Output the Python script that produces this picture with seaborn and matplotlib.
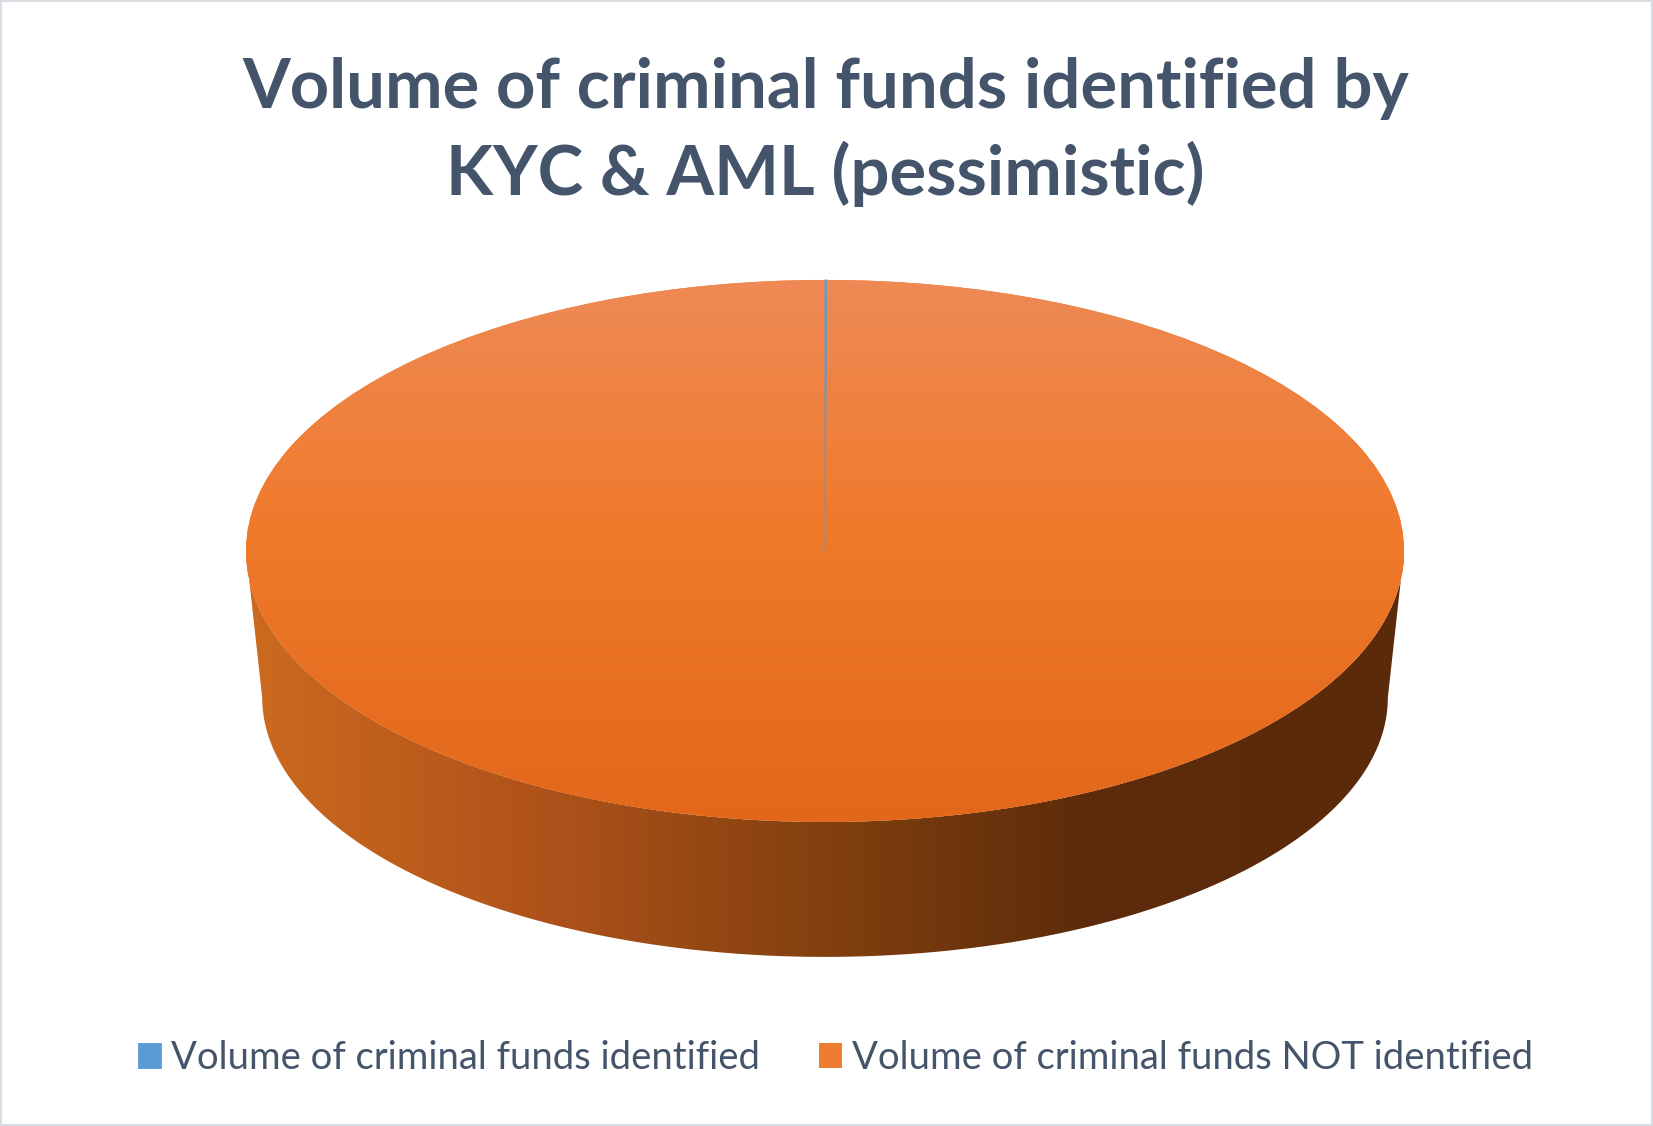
import numpy as np
import matplotlib
matplotlib.use('Agg')
import matplotlib.pyplot as plt
import seaborn as sns
from matplotlib.colors import LinearSegmentedColormap
from matplotlib.patches import Polygon, Rectangle

# data (pessimistic scenario)
labels = ['Volume of criminal funds identified', 'Volume of criminal funds NOT identified']
values = [0.05, 99.95]
colors = ['#5b9bd5', '#ed7d31']
title = 'Volume of criminal funds identified by\nKYC & AML (pessimistic)'

sns.set_theme(style='white')
plt.rcParams['font.family'] = ['Lato', 'DejaVu Sans']
text_col = '#44546a'

fig = plt.figure(figsize=(16.53, 11.26), dpi=100)
fig.patch.set_facecolor('white')
ax = fig.add_axes([0, 0, 1, 1])

wedges, _ = ax.pie(values, colors=colors, startangle=90, counterclock=False,
                   radius=1, wedgeprops=dict(linewidth=0))

# 3d-looking wall under the front half of the pie
t = np.linspace(np.pi, 2 * np.pi, 200)
top_edge = np.column_stack([np.cos(t), np.sin(t)])
bot_edge = np.column_stack([0.972 * np.cos(t), -0.542 + 0.956 * np.sin(t)])[::-1]
wall = Polygon(np.vstack([top_edge, bot_edge]), closed=True, facecolor='none', edgecolor='none')
ax.add_patch(wall)
wall_cmap = LinearSegmentedColormap.from_list(
    'wall', [(0.0, '#cc6a1f'), (0.25, '#b0531a'), (0.5, '#82400f'), (0.72, '#5e2c0b'), (1.0, '#5a2a0b')])
grad = np.linspace(0, 1, 256).reshape(1, -1)
im = ax.imshow(grad, cmap=wall_cmap, extent=(-1, 1, -1.6, 0), aspect='auto', zorder=0.5)
im.set_clip_path(wall)

# gradient on the top face of the big slice
top_cmap = LinearSegmentedColormap.from_list(
    'top', [(0.0, '#ee8a55'), (0.45, '#f07a2c'), (1.0, '#e2671a')])
vgrad = np.linspace(0, 1, 256).reshape(-1, 1)
im2 = ax.imshow(vgrad, cmap=top_cmap, extent=(-1, 1, -1, 1), aspect='auto', zorder=1.5)
im2.set_clip_path(wedges[1])
wedges[0].set_zorder(2)
wedges[0].set_edgecolor(colors[0])
wedges[0].set_linewidth(0.6)

ax.set_aspect('auto')
ax.set_xlim(-1.4249, 1.430)
ax.set_ylim(-2.122, 2.033)
ax.axis('off')

fig.text(0.4995, 0.883, title, ha='center', va='center', fontsize=49.5,
         fontweight='bold', color=text_col, linespacing=1.38)

leg = fig.legend(wedges, labels, loc='center', bbox_to_anchor=(0.5055, 0.0605), ncol=2,
                 frameon=False, fontsize=27.5, handlelength=0.6, handleheight=0.6,
                 handletextpad=0.25, columnspacing=1.55, labelcolor=text_col)

fig.add_artist(Rectangle((0, 0), 1, 1, transform=fig.transFigure, fill=False,
                         edgecolor='#d9dde4', linewidth=3))

fig.savefig('out.png', dpi=100, facecolor='white')
